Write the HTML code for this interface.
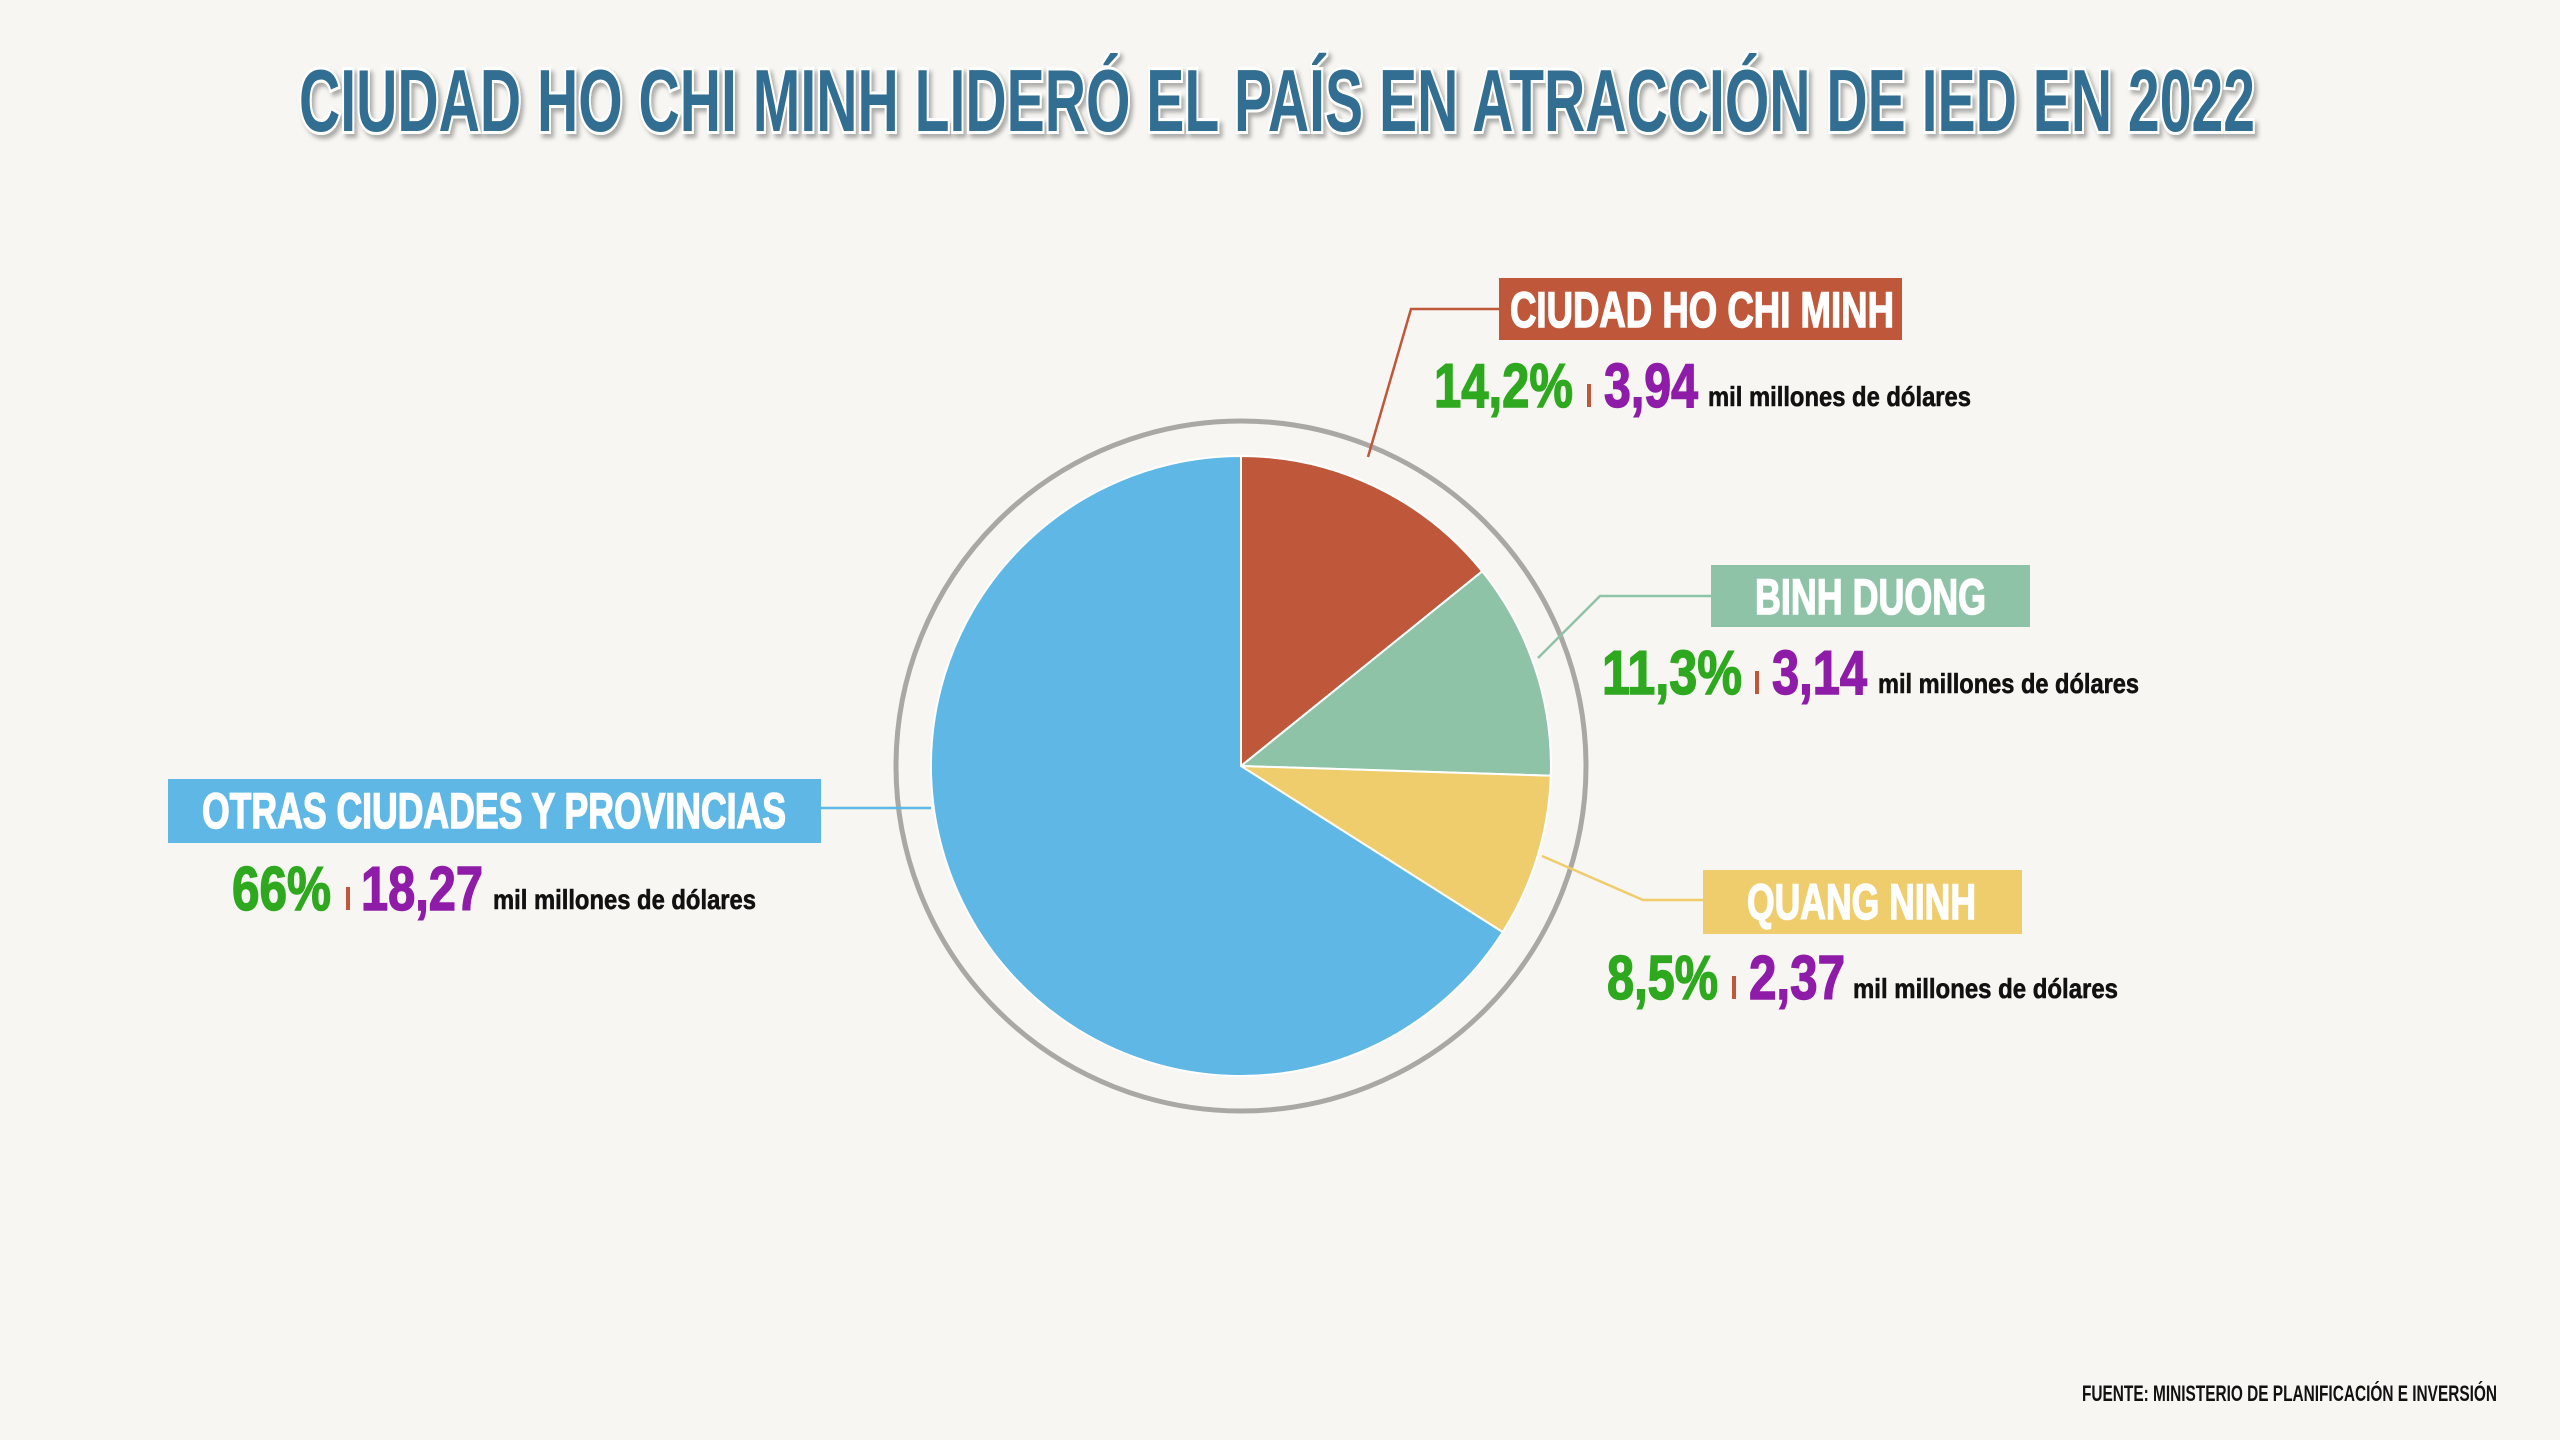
<!DOCTYPE html>
<html><head><meta charset="utf-8"><style>
html,body{margin:0;padding:0;background:#F7F6F2;}
svg{display:block;}
text{font-family:"Liberation Sans Narrow","Liberation Sans",sans-serif;font-weight:bold;}
</style></head><body>
<svg width="2560" height="1440" viewBox="0 0 2560 1440" xmlns="http://www.w3.org/2000/svg">
<rect width="2560" height="1440" fill="#F7F6F2"/>
<defs><filter id="sh" x="-5%" y="-30%" width="110%" height="160%"><feDropShadow dx="3" dy="4" stdDeviation="2" flood-color="#000" flood-opacity="0.3"/></filter></defs>
<text x="299" y="131" font-size="88" textLength="1956" lengthAdjust="spacingAndGlyphs" fill="#336E91" stroke="#fff" stroke-width="6" paint-order="stroke" filter="url(#sh)">CIUDAD HO CHI MINH LIDERÓ EL PAÍS EN ATRACCIÓN DE IED EN 2022</text>

<circle cx="1241" cy="766" r="345" fill="none" stroke="#AAA8A4" stroke-width="5"/>
<g stroke="#fff" stroke-width="2">
<path d="M1241 766 L1241 456 A310 310 0 0 1 1482.2 571.3 Z" fill="#BF573B"/>
<path d="M1241 766 L1482.2 571.3 A310 310 0 0 1 1550.8 775.7 Z" fill="#8FC3A8"/>
<path d="M1241 766 L1550.8 775.7 A310 310 0 0 1 1502.7 932.1 Z" fill="#EFCD6D"/>
<path d="M1241 766 L1502.7 932.1 A310 310 0 1 1 1241 456 Z" fill="#5FB7E5"/>
</g>

<g fill="none" stroke-width="2.5">
<polyline points="1368,457 1411,309 1499,309" stroke="#BF573B"/>
<polyline points="1538,658 1600,596 1711,596" stroke="#8FC3A8"/>
<polyline points="1542,856 1643,900 1703,900" stroke="#EFCD6D"/>
<polyline points="821,808 931,808" stroke="#5FB7E5"/>
</g>

<g stroke="#fff" stroke-width="1.5">
<rect x="1499" y="278" width="403" height="62" fill="#BF573B" stroke="none"/>
<text x="1510" y="327" font-size="50" fill="#fff" textLength="384" lengthAdjust="spacingAndGlyphs">CIUDAD HO CHI MINH</text>
<rect x="1711" y="565" width="319" height="62" fill="#8FC3A8" stroke="none"/>
<text x="1755" y="614" font-size="50" fill="#fff" textLength="231" lengthAdjust="spacingAndGlyphs">BINH DUONG</text>
<rect x="1703" y="870" width="319" height="64" fill="#EFCD6D" stroke="none"/>
<text x="1747" y="919" font-size="50" fill="#fff" textLength="229" lengthAdjust="spacingAndGlyphs">QUANG NINH</text>
<rect x="168" y="779" width="653" height="64" fill="#5FB7E5" stroke="none"/>
<text x="202" y="828" font-size="50" fill="#fff" textLength="584" lengthAdjust="spacingAndGlyphs">OTRAS CIUDADES Y PROVINCIAS</text>
</g>

<g font-size="62" stroke-width="1.5">
<text x="1434" y="407" fill="#2EA81E" stroke="#2EA81E" textLength="139" lengthAdjust="spacingAndGlyphs">14,2%</text>
<rect x="1587" y="384" width="4" height="23" fill="#BF573B"/>
<text x="1604" y="407" fill="#8E1CA8" stroke="#8E1CA8" textLength="94" lengthAdjust="spacingAndGlyphs">3,94</text>
<text x="1602" y="694" fill="#2EA81E" stroke="#2EA81E" textLength="140" lengthAdjust="spacingAndGlyphs">11,3%</text>
<rect x="1755" y="671" width="4" height="23" fill="#BF573B"/>
<text x="1772" y="694" fill="#8E1CA8" stroke="#8E1CA8" textLength="95" lengthAdjust="spacingAndGlyphs">3,14</text>
<text x="1607" y="999" fill="#2EA81E" stroke="#2EA81E" textLength="111" lengthAdjust="spacingAndGlyphs">8,5%</text>
<rect x="1732" y="976" width="4" height="23" fill="#BF573B"/>
<text x="1749" y="999" fill="#8E1CA8" stroke="#8E1CA8" textLength="96" lengthAdjust="spacingAndGlyphs">2,37</text>
<text x="232" y="910" fill="#2EA81E" stroke="#2EA81E" textLength="99" lengthAdjust="spacingAndGlyphs">66%</text>
<rect x="346" y="887" width="4" height="23" fill="#BF573B"/>
<text x="361" y="910" fill="#8E1CA8" stroke="#8E1CA8" textLength="122" lengthAdjust="spacingAndGlyphs">18,27</text>
</g>
<g font-size="28" fill="#111" stroke="#111" stroke-width="0.6">
<text x="1708" y="406" textLength="263" lengthAdjust="spacingAndGlyphs">mil millones de dólares</text>
<text x="1878" y="693" textLength="261" lengthAdjust="spacingAndGlyphs">mil millones de dólares</text>
<text x="1853" y="998" textLength="265" lengthAdjust="spacingAndGlyphs">mil millones de dólares</text>
<text x="493" y="909" textLength="263" lengthAdjust="spacingAndGlyphs">mil millones de dólares</text>
</g>
<text x="2082" y="1401" font-size="22" fill="#111" textLength="415" lengthAdjust="spacingAndGlyphs">FUENTE: MINISTERIO DE PLANIFICACIÓN E INVERSIÓN</text>
</svg>
</body></html>
